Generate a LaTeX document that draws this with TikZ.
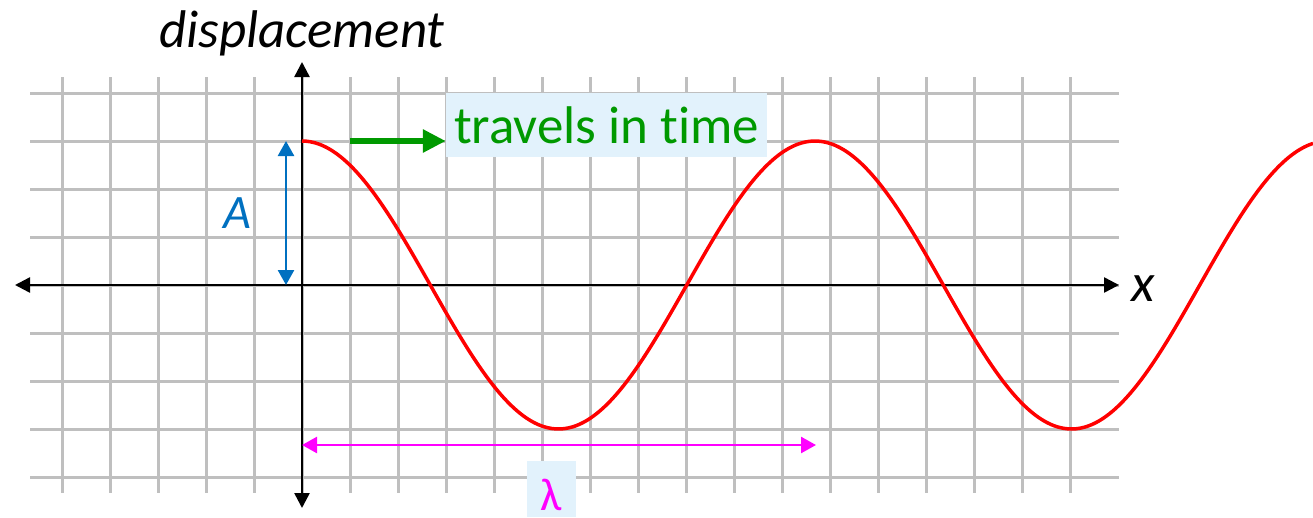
\documentclass[tikz,border=0pt]{standalone}
\usepackage{fontspec}
\setmainfont{Carlito}[Ligatures={NoCommon,NoRare}]
\usetikzlibrary{arrows.meta}
\definecolor{gridgray}{RGB}{191,191,191}
\definecolor{ablue}{RGB}{0,112,192}
\definecolor{tgreen}{RGB}{0,153,0}
\definecolor{boxblue}{RGB}{226,242,252}
\definecolor{lmag}{RGB}{255,0,255}
\definecolor{wred}{RGB}{255,0,0}
\begin{document}
\begin{tikzpicture}[x=1pt,y=-1pt,
  gridline/.style={draw=gridgray,line width=3pt},
  axisline/.style={draw=black,line width=2.5pt,{Triangle[length=15pt,width=15pt]}-{Triangle[length=15pt,width=15pt]}},
  ampline/.style={draw=ablue,line width=2.5pt,{Triangle[length=15pt,width=16pt]}-{Triangle[length=15pt,width=16pt]}},
  lamline/.style={draw=lmag,line width=2.5pt,{Triangle[length=15pt,width=16pt]}-{Triangle[length=15pt,width=16pt]}},
  moveline/.style={draw=tgreen,line width=6pt,-{Triangle[length=23pt,width=22pt]}},
  wave/.style={draw=wred,line width=3.5pt},
  bigtext/.style={font=\fontsize{53}{60}\selectfont,inner sep=0pt}]
\useasboundingbox (0,0) rectangle (1313,517);
\fill[white] (0,0) rectangle (1313,517);
% grid
\foreach \i in {0,...,21} \draw[gridline] ({62+48*\i},77) -- ({62+48*\i},493);
\foreach \j in {0,...,8} \draw[gridline] (30,{93+48*\j}) -- (1119,{93+48*\j});
% axes
\coordinate (xl) at (15,285);
\coordinate (xr) at (1119,285);
\coordinate (yt) at (302,62);
\coordinate (yb) at (302,508);
\draw[axisline] (xl) -- (xr);
\draw[axisline] (yt) -- (yb);
% wave
\draw[wave] plot[domain=302:1313,samples=240,smooth] (\x,{285-144*cos(0.701754*(\x-302))});
% amplitude
\coordinate (at) at (286,141);
\coordinate (ab) at (286,285);
\draw[ampline] (at) -- (ab);
\node[bigtext,text=ablue,font=\fontsize{48}{55}\selectfont\itshape] (alab) at (237,213) {A};
% travel
\node[fill=boxblue,minimum width=321pt,minimum height=64pt,inner sep=0pt,text=tgreen,font=\fontsize{53}{60}\selectfont] (trav) at (606.5,125) {travels in time};
\coordinate (ts) at (350,141);
\draw[moveline] (ts) -- (trav.west |- ts);
% wavelength
\coordinate (la) at (302,445);
\coordinate (lb) at (816,445);
\draw[lamline] (la) -- (lb);
\node[fill=boxblue,minimum width=49pt,minimum height=56pt,inner sep=0pt,text height=42pt,text depth=0pt,text=lmag,font=\fontsize{46}{52}\selectfont] (lam) at (551.5,489) {λ};
% labels
\node[bigtext,anchor=base,font=\fontsize{53}{60}\selectfont\itshape] (disp) at (302,47) {displacement};
\node[bigtext,font=\fontsize{54}{60}\selectfont\itshape] (xlab) at (1143,289) {x};
\end{tikzpicture}
\end{document}
